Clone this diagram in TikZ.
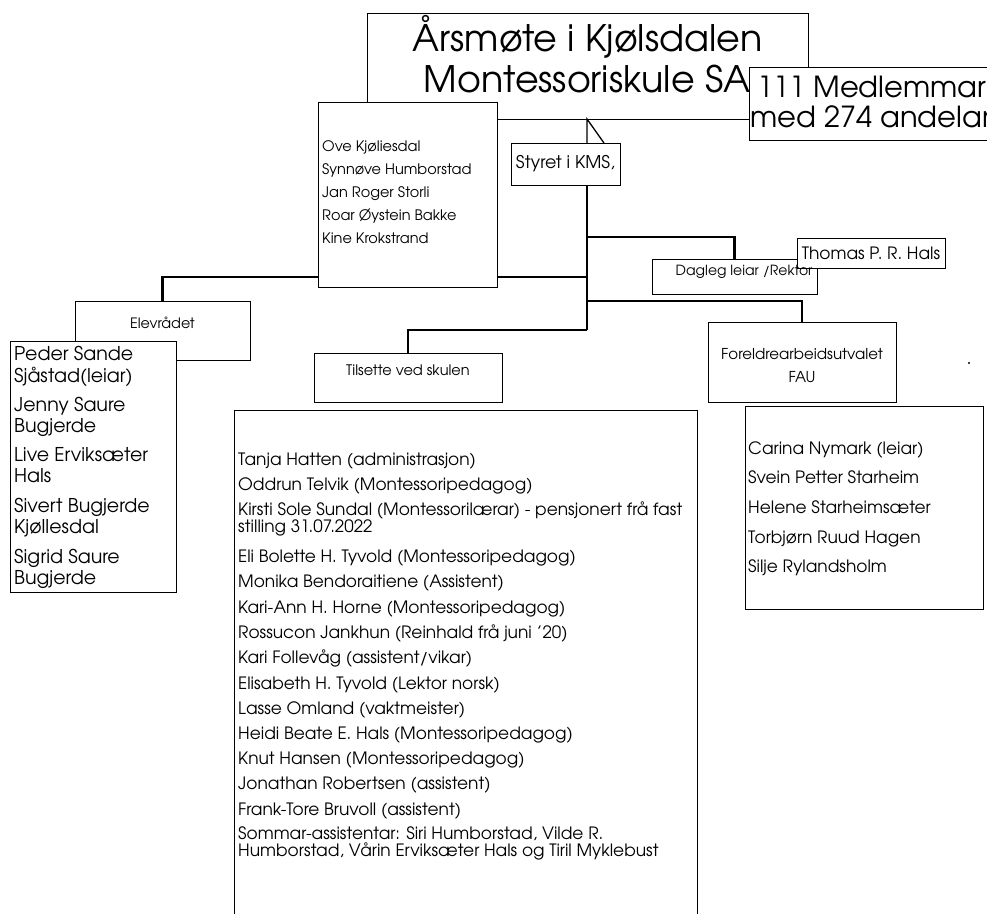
\documentclass[tikz,border=0pt]{standalone}
\usepackage{fontspec}
\setmainfont{TeX Gyre Adventor}
\newcommand\setfs[2]{\fontsize{#1}{#2}\selectfont}
\begin{document}
\begin{tikzpicture}[x=1pt,y=-1pt,
  box/.style={draw=black, line width=0.8pt, fill=white, inner sep=0pt},
  conn/.style={line width=2.7pt, line join=miter},
  wedge/.style={line width=1.3pt},
  lst/.style={anchor=base west, inner sep=0pt},
  lbl/.style={inner sep=0pt, align=center},
]
\useasboundingbox (0,0) rectangle (987,914);
\clip (0,0) rectangle (987,914);
\fill[white] (0,0) rectangle (987,914);

% title box
\node[box, minimum width=441pt, minimum height=106pt] (title) at (587.5,66) {};
\node[lbl, anchor=base] (t1) at (587.5,51) {\setfs{36.5}{40}Årsmøte i Kjølsdalen};
\node[lbl, anchor=base] (t2) at (587,92) {\setfs{36.5}{40}Montessoriskule SA};

% members box
\node[box, minimum width=262pt, minimum height=73pt] (memb) at (880,103.5) {};
\node[lst] (m1) at (757,97) {\setfs{29}{32}111 Medlemmar};
\node[lst] (m2) at (750,127) {\setfs{29}{32}med 274 andelar};

% coordinates of the connector tree
\coordinate (ttop) at (587,119);
\coordinate (wl) at (587,143);
\coordinate (wr) at (604,143);
\coordinate (tr0) at (587,185);
\coordinate (j1) at (587,237);
\coordinate (j2) at (587,277);
\coordinate (j3) at (587,301);
\coordinate (j4) at (587,330);

% boxes that the connectors end at (drawn again later on top)
\path (734.5,276.5) node[minimum width=165pt, minimum height=35pt, inner sep=0pt] (dagleg) {};
\path (162.5,330.5) node[minimum width=175pt, minimum height=59pt, inner sep=0pt] (elevr) {};
\path (802,362) node[minimum width=188pt, minimum height=80pt, inner sep=0pt] (fau) {};
\path (408,377.5) node[minimum width=188pt, minimum height=49pt, inner sep=0pt] (tils) {};

% connectors
\draw[conn] (tr0) -- (j4);
\draw[conn] (j1) -| (dagleg.north);
\draw[conn] (j2) -| (elevr.north);
\draw[conn] (j3) -| (fau.north);
\draw[conn] (j4) -| (tils.north);
\draw[wedge] (wl) -- (ttop) -- (wr);

% board box
\node[box, minimum width=179pt, minimum height=185pt] (board) at (407.5,194.5) {};
\foreach \t [count=\i] in {Ove Kjøliesdal, Synnøve Humborstad, Jan Roger Storli, Roar Øystein Bakke, Kine Krokstrand}
  \node[lst] (brd\i) at (322,{151+(\i-1)*23}) {\setfs{14.5}{16}\t};

% styret
\node[box, minimum width=109pt, minimum height=42pt, font=\setfs{17.5}{20}] (styret) at (565.5,164) {Styret i KMS,};

% dagleg + thomas
\node[box, minimum width=165pt, minimum height=35pt] (daglegbox) at (734.5,276.5) {};
\node[box, minimum width=148pt, minimum height=30pt, font=\setfs{17}{20}] (thomas) at (871,253) {Thomas P. R. Hals};
\node[lbl] (daglegtxt) at (744,272) {\setfs{14}{16}Dagleg leiar /Rektor};

% Elevrådet
\node[box, minimum width=175pt, minimum height=59pt] (elevrbox) at (162.5,330.5) {};
\node[lbl] (elevrtxt) at (162.5,323) {\setfs{14.3}{16}Elevrådet};
\node[box, minimum width=166pt, minimum height=251pt] (elevm) at (93,466.5) {};
\foreach \yy/\t [count=\i] in {360/Peder Sande, 382/Sjåstad(leiar), 411/Jenny Saure, 432/Bugjerde, 461/Live Erviksæter, 482/Hals, 512/Sivert Bugjerde, 533/Kjøllesdal, 563/Sigrid Saure, 584/Bugjerde}
  \node[lst] (el\i) at (14,\yy) {\setfs{19}{21}\t};

% Tilsette
\node[box, minimum width=188pt, minimum height=49pt] (tilsbox) at (408,377.5) {};
\node[lbl] (tilstxt) at (408,370) {\setfs{14.5}{16}Tilsette ved skulen};
\draw[line width=0.8pt] (234,914) -- (234,410) -- (697,410) -- (697,914);
\foreach \yy/\t [count=\i] in {
  465/{Tanja Hatten (administrasjon)},
  490/{Oddrun Telvik (Montessoripedagog)},
  515/{Kirsti Sole Sundal (Montessorilærar) - pensjonert frå fast},
  532/{stilling 31.07.2022},
  562/{Eli Bolette H. Tyvold (Montessoripedagog)},
  587/{Monika Bendoraitiene (Assistent)},
  613/{Kari-Ann H. Horne (Montessoripedagog)},
  638/{Rossucon Jankhun (Reinhald frå juni '20)},
  663/{Kari Follevåg (assistent/vikar)},
  689/{Elisabeth H. Tyvold (Lektor norsk)},
  714/{Lasse Omland (vaktmeister)},
  739/{Heidi Beate E. Hals (Montessoripedagog)},
  764/{Knut Hansen (Montessoripedagog)},
  789/{Jonathan Robertsen (assistent)},
  815/{Frank-Tore Bruvoll (assistent)},
  839/{Sommar-assistentar: Siri Humborstad, Vilde R.},
  856/{Humborstad, Vårin Erviksæter Hals og Tiril Myklebust}}
  \node[lst] (ti\i) at (238,\yy) {\setfs{17}{19}\t};

% FAU
\node[box, minimum width=188pt, minimum height=80pt] (faubox) at (802,362) {};
\node[lbl, font=\setfs{15}{23}] (fautxt) at (802,366) {Foreldrearbeidsutvalet\\FAU};
\node[box, minimum width=238pt, minimum height=203pt] (faum) at (864,507.5) {};
\foreach \yy/\t [count=\i] in {454/Carina Nymark (leiar), 483/Svein Petter Starheim, 513/Helene Starheimsæter, 543/Torbjørn Ruud Hagen, 572/Silje Rylandsholm}
  \node[lst] (fa\i) at (748,\yy) {\setfs{17}{20}\t};

\fill (969,363) circle (1.2pt);
\end{tikzpicture}
\end{document}
